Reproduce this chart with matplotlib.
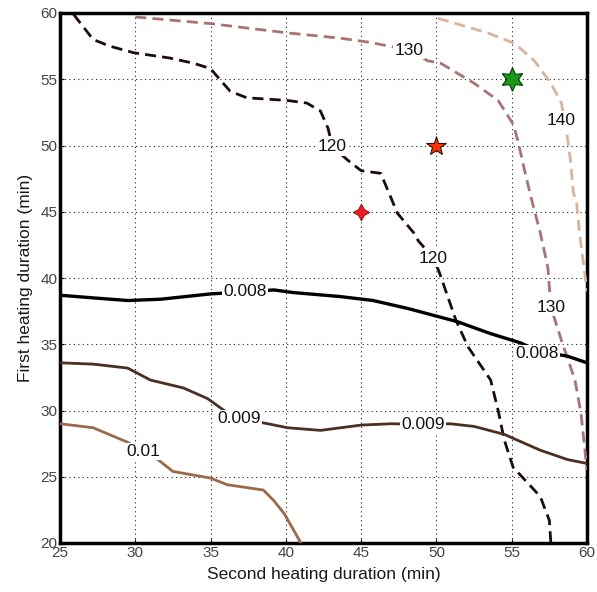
import matplotlib
matplotlib.use("Agg")
import matplotlib.pyplot as plt
import numpy as np

plt.rcParams['font.family'] = ['Liberation Sans', 'DejaVu Sans']

# Contour polylines (x = second heating duration, y = first heating duration)
c120_x = [25.9, 27.2, 28.3, 29.9, 32.3, 33.9, 35.0, 35.6, 36.3, 37.4, 40.1, 41.4, 42.3, 42.8, 43.1, 44.1, 45.0, 46.3, 47.0, 47.4, 48.5, 48.8, 49.8, 50.2, 51.3, 52.1, 53.6, 54.1, 54.5, 55.1, 55.6, 56.9, 57.5, 57.6]
c120_y = [59.9, 58.0, 57.5, 57.0, 56.6, 56.2, 55.8, 55.0, 54.1, 53.6, 53.4, 53.2, 52.6, 51.3, 49.9, 48.9, 48.1, 47.9, 46.0, 44.9, 43.4, 42.8, 41.5, 40.4, 36.8, 34.8, 32.3, 30.0, 27.8, 25.7, 25.1, 23.5, 21.7, 20.0]
c130_x = [30.0, 35.0, 40.1, 43.6, 45.5, 48.2, 49.4, 50.3, 52.5, 54.1, 55.1, 55.4, 55.9, 56.3, 56.9, 57.4, 57.6, 58.3, 59.2, 59.6, 60.0]
c130_y = [59.7, 59.2, 58.5, 58.1, 57.8, 57.2, 56.4, 56.2, 54.7, 53.4, 51.6, 50.4, 47.9, 46.0, 43.4, 40.8, 37.8, 35.3, 32.3, 29.8, 25.5]
c140_x = [50.1, 53.4, 55.2, 56.5, 57.6, 58.3, 58.5, 58.7, 58.9, 59.1, 59.3, 59.5, 59.8, 60.0]
c140_y = [59.6, 58.5, 57.7, 56.4, 54.7, 53.2, 51.9, 50.6, 48.9, 46.4, 45.8, 43.4, 40.8, 39.0]
c008_x = [25.0, 27.2, 29.5, 31.7, 35.0, 37.3, 39.2, 40.5, 43.6, 45.8, 48.1, 51.4, 53.6, 55.6, 56.7, 58.7, 60.0]
c008_y = [38.7, 38.5, 38.3, 38.4, 38.8, 38.95, 39.1, 38.9, 38.6, 38.3, 37.7, 36.7, 35.8, 35.1, 34.5, 34.1, 33.6]
c009_x = [25.0, 27.2, 29.5, 31.0, 33.2, 34.8, 35.9, 36.9, 38.8, 40.1, 42.3, 45.0, 47.0, 49.1, 50.9, 52.5, 54.5, 56.9, 58.7, 60.0]
c009_y = [33.6, 33.5, 33.2, 32.3, 31.7, 30.9, 30.0, 29.4, 29.0, 28.7, 28.5, 28.9, 29.0, 28.95, 29.0, 28.8, 28.2, 27.0, 26.3, 26.0]
c010_x = [25.0, 27.2, 29.5, 30.5, 31.5, 32.5, 35.0, 36.1, 38.5, 39.2, 39.9, 41.0]
c010_y = [29.0, 28.7, 27.6, 26.9, 26.3, 25.4, 24.9, 24.4, 24.0, 23.2, 22.2, 20.0]

# inline labels: (text, x, y)
lab_120 = [("120", 43.1, 49.9), ("120", 49.8, 41.5)]
lab_130 = [("130", 48.2, 57.2), ("130", 57.6, 37.8)]
lab_140 = [("140", 58.3, 51.9)]
lab_008 = [("0.008", 37.3, 38.95), ("0.008", 56.7, 34.3)]
lab_009 = [("0.009", 36.9, 29.4), ("0.009", 49.1, 28.95)]
lab_010 = [("0.01", 30.5, 26.9)]

pt_x = [45, 50, 55]
pt_y = [45, 50, 55]

fig = plt.figure(figsize=(5.97, 5.92), dpi=100)
ax = fig.add_axes([60/597, (592-543)/592, (587-60)/597, (543-13)/592])

dash = (0, (4, 2.2))
ax.plot(c120_x, c120_y, color='#1e0c0a', lw=2.0, ls=dash, zorder=3)
ax.plot(c130_x, c130_y, color='#a87373', lw=2.0, ls=dash, zorder=3)
ax.plot(c140_x, c140_y, color='#d9b49c', lw=2.0, ls=dash, zorder=3)
ax.plot(c008_x, c008_y, color='#000000', lw=2.4, zorder=3)
ax.plot(c009_x, c009_y, color='#4a3022', lw=2.0, zorder=3)
ax.plot(c010_x, c010_y, color='#9b6a4a', lw=2.0, zorder=3)

for labs in [lab_120, lab_130, lab_140, lab_008, lab_009, lab_010]:
    for t, x, y in labs:
        ax.text(x, y, t, fontsize=12.5, ha='center', va='center', color='#111111', zorder=5,
                bbox=dict(boxstyle='square,pad=0.08', fc='white', ec='none'))

ax.plot(pt_x[0], pt_y[0], marker=(4, 1, 0), ms=12, color='#ee1c24', mec='#7a1010', mew=0.6, zorder=6, ls='none')
ax.plot(pt_x[1], pt_y[1], marker='*', ms=15, color='#ff3300', mec='#331111', mew=0.8, zorder=6, ls='none')
ax.plot(pt_x[2], pt_y[2], marker=(6, 1, 0), ms=17, color='#159a15', mec='#0a3a0a', mew=0.8, zorder=6, ls='none')

ax.set_xlim(25, 60)
ax.set_ylim(20, 60)
ax.set_xticks(np.arange(25, 61, 5))
ax.set_yticks(np.arange(20, 61, 5))
ax.grid(True, color='#222222', ls=(0, (1, 3)), lw=0.8)
ax.tick_params(direction='in', length=3, labelsize=11, labelcolor='#444444', width=0.8, pad=2)
for s in ax.spines.values():
    s.set_linewidth(2.5)
ax.set_xlabel('Second heating duration (min)', fontsize=12.5, color='#1a1a1a', labelpad=5)
ax.set_ylabel('First heating duration (min)', fontsize=12.5, color='#1a1a1a', labelpad=5)

fig.savefig('out.png', dpi=100)
